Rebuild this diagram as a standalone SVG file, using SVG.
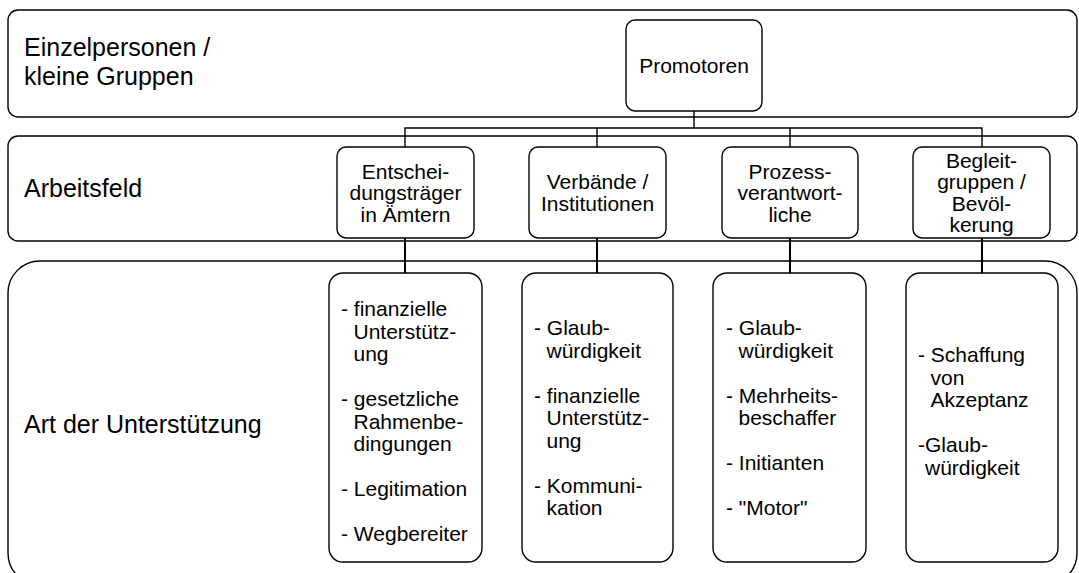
<svg xmlns="http://www.w3.org/2000/svg" width="1079" height="573" viewBox="0 0 1079 573">
<style>
.band{fill:#fff;stroke:#000;stroke-width:1.4}
.box{fill:#fff;stroke:#000;stroke-width:1.4}
.lbl{font-family:"Liberation Sans",Arial,sans-serif;font-size:25px;fill:#000}
.t{font-family:"Liberation Sans",Arial,sans-serif;font-size:21px;fill:#000}
.c{text-anchor:middle}
.con{fill:none;stroke:#000;stroke-width:1.4}
.con2{fill:none;stroke:#000;stroke-width:2}
</style>
<rect width="1079" height="573" fill="#fff"/>
<g id="band1">
<rect class="band" x="8" y="10" width="1069" height="107" rx="10"/>
<text class="lbl" x="24" y="56">Einzelpersonen /</text>
<text class="lbl" x="24" y="85">kleine Gruppen</text>
</g>
<g id="band2">
<rect class="band" x="8" y="136" width="1069" height="105" rx="10"/>
<text class="lbl" x="24" y="197">Arbeitsfeld</text>
</g>
<g id="band3">
<rect class="band" x="8" y="261" width="1069" height="324" rx="32"/>
<text class="lbl" x="24" y="433">Art der Unterstützung</text>
</g>
<g id="connectors">
<path class="con" d="M694 111V128M405 147V128H982V147M597 128V147M790 128V147"/>
<path class="con2" d="M405 238V273M597 238V273M790 238V273M982 238V273"/>
</g>
<g id="promotoren">
<rect class="box" x="626" y="20" width="136" height="91" rx="9"/>
<text class="t c" x="694" y="73">Promotoren</text>
</g>
<g id="entscheidungstraeger">
<rect class="box" x="337" y="147" width="137" height="91" rx="9"/>
<text class="t c" x="405.5" y="178.5">Entschei-</text>
<text class="t c" x="405.5" y="200">dungsträger</text>
<text class="t c" x="405.5" y="221.5">in Ämtern</text>
</g>
<g id="verbaende">
<rect class="box" x="529" y="147" width="137" height="91" rx="9"/>
<text class="t c" x="597.5" y="189">Verbände /</text>
<text class="t c" x="597.5" y="210.5">Institutionen</text>
</g>
<g id="prozess">
<rect class="box" x="722" y="147" width="136" height="91" rx="9"/>
<text class="t c" x="790" y="178.5">Prozess-</text>
<text class="t c" x="790" y="200">verantwort-</text>
<text class="t c" x="790" y="221.5">liche</text>
</g>
<g id="begleit">
<rect class="box" x="913" y="147" width="137" height="91" rx="9"/>
<text class="t c" x="981.5" y="168">Begleit-</text>
<text class="t c" x="981.5" y="189.3">gruppen /</text>
<text class="t c" x="981.5" y="210.6">Bevöl-</text>
<text class="t c" x="981.5" y="232">kerung</text>
</g>
<g id="unterstuetzung1">
<rect class="box" x="329" y="273" width="153" height="289" rx="14"/>
<text class="t" x="341" y="316">- finanzielle</text>
<text class="t" x="353.5" y="338.5">Unterstütz-</text>
<text class="t" x="353.5" y="361">ung</text>
<text class="t" x="341" y="406">- gesetzliche</text>
<text class="t" x="353.5" y="428.5">Rahmenbe-</text>
<text class="t" x="353.5" y="451">dingungen</text>
<text class="t" x="341" y="496">- Legitimation</text>
<text class="t" x="341" y="541">- Wegbereiter</text>
</g>
<g id="unterstuetzung2">
<rect class="box" x="522" y="273" width="151" height="289" rx="14"/>
<text class="t" x="534" y="335">- Glaub-</text>
<text class="t" x="546.5" y="357.5">würdigkeit</text>
<text class="t" x="534" y="402.5">- finanzielle</text>
<text class="t" x="546.5" y="425">Unterstütz-</text>
<text class="t" x="546.5" y="447.5">ung</text>
<text class="t" x="534" y="492.5">- Kommuni-</text>
<text class="t" x="546.5" y="515">kation</text>
</g>
<g id="unterstuetzung3">
<rect class="box" x="713" y="273" width="153" height="289" rx="14"/>
<text class="t" x="726" y="335">- Glaub-</text>
<text class="t" x="738.5" y="357.5">würdigkeit</text>
<text class="t" x="726" y="402.5">- Mehrheits-</text>
<text class="t" x="738.5" y="425">beschaffer</text>
<text class="t" x="726" y="470">- Initianten</text>
<text class="t" x="726" y="515">- "Motor"</text>
</g>
<g id="unterstuetzung4">
<rect class="box" x="906" y="273" width="152" height="289" rx="14"/>
<text class="t" x="918" y="362">- Schaffung</text>
<text class="t" x="930.5" y="384.5">von</text>
<text class="t" x="930.5" y="407">Akzeptanz</text>
<text class="t" x="918" y="452">-Glaub-</text>
<text class="t" x="925" y="474.5">würdigkeit</text>
</g>
</svg>
